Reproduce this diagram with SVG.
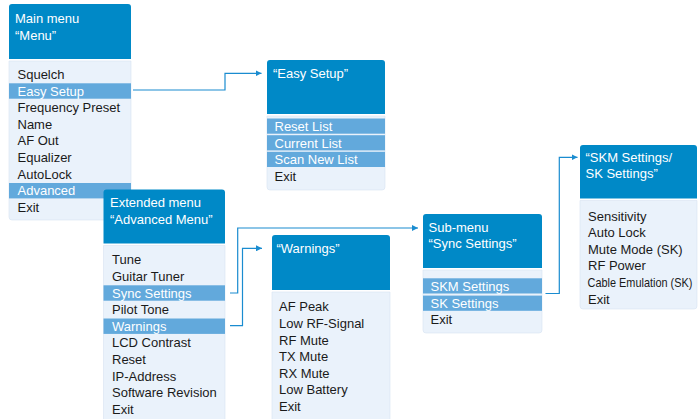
<svg xmlns="http://www.w3.org/2000/svg" width="699" height="419" viewBox="0 0 699 419">
<defs>
<style>
.hd{fill:#0089c7}
.bd{fill:#eaf2fb;stroke:#d6e3f1;stroke-width:0.6}
.hl{fill:#62a9dc}
text{font-family:"Liberation Sans",Arial,sans-serif;font-size:13px}
.ht{fill:#ffffff}
.it{fill:#1a1a1a}
.iw{fill:#ffffff}
.cn{fill:none;stroke:#1a8cd0;stroke-width:1.2}
</style>
<marker id="ah" markerUnits="userSpaceOnUse" markerWidth="7" markerHeight="6" refX="6" refY="3" orient="auto">
<path d="M0,0 L6,3 L0,6 Z" fill="#1a8cd0"/>
</marker>
</defs>
<rect width="699" height="419" fill="#ffffff"/>

<g id="main-menu">
<path class="hd" d="M9,59 V7 Q9,4 12,4 H128 Q131,4 131,7 V59 Z"/>
<path class="bd" d="M9,61 H131 V217 Q131,220 128,220 H12 Q9,220 9,217 Z"/>
<rect class="hl" x="9" y="83.3" width="122" height="15.4"/>
<rect class="hl" x="9" y="183" width="122" height="15.4"/>
<text class="ht" x="15" y="22.6">Main menu</text>
<text class="ht" x="15" y="39.6">“Menu”</text>
<text class="it" x="17.5" y="79">Squelch</text>
<text class="iw" x="17.5" y="95.6">Easy Setup</text>
<text class="it" x="17.5" y="112.2">Frequency Preset</text>
<text class="it" x="17.5" y="128.8">Name</text>
<text class="it" x="17.5" y="145.4">AF Out</text>
<text class="it" x="17.5" y="162">Equalizer</text>
<text class="it" x="17.5" y="178.6">AutoLock</text>
<text class="iw" x="17.5" y="195.2">Advanced</text>
<text class="it" x="17.5" y="211.8">Exit</text>
</g>

<g id="easy-setup">
<path class="hd" d="M267,114 V63 Q267,60 270,60 H382 Q385,60 385,63 V114 Z"/>
<path class="bd" d="M267,116 H385 V187 Q385,190 382,190 H270 Q267,190 267,187 Z"/>
<rect class="hl" x="267" y="118.5" width="118" height="15.2"/>
<rect class="hl" x="267" y="135.2" width="118" height="15.2"/>
<rect class="hl" x="267" y="151.8" width="118" height="15.2"/>
<text class="ht" x="273" y="78">“Easy Setup”</text>
<text class="iw" x="274.5" y="130.8">Reset List</text>
<text class="iw" x="274.5" y="147.5">Current List</text>
<text class="iw" x="274.5" y="164.1">Scan New List</text>
<text class="it" x="274.5" y="180.6">Exit</text>
</g>

<g id="extended-menu">
<path class="hd" d="M103.5,243.5 V192.5 Q103.5,189.5 106.5,189.5 H222 Q225,189.5 225,192.5 V243.5 Z"/>
<path class="bd" d="M103.5,245.5 H225 V422 H103.5 Z"/>
<rect class="hl" x="103.5" y="285.3" width="121.5" height="15.4"/>
<rect class="hl" x="103.5" y="318.5" width="121.5" height="15.4"/>
<text class="ht" x="110" y="207.3">Extended menu</text>
<text class="ht" x="110" y="223.8">“Advanced Menu”</text>
<text class="it" x="112" y="264.4">Tune</text>
<text class="it" x="112" y="281">Guitar Tuner</text>
<text class="iw" x="112" y="297.6">Sync Settings</text>
<text class="it" x="112" y="314.2">Pilot Tone</text>
<text class="iw" x="112" y="330.8">Warnings</text>
<text class="it" x="112" y="347.4">LCD Contrast</text>
<text class="it" x="112" y="364">Reset</text>
<text class="it" x="112" y="380.6">IP-Address</text>
<text class="it" x="112" y="397.2">Software Revision</text>
<text class="it" x="112" y="413.8">Exit</text>
</g>

<g id="warnings">
<path class="hd" d="M272,290 V238 Q272,235 275,235 H387 Q390,235 390,238 V290 Z"/>
<path class="bd" d="M272,292 H390 V422 H272 Z"/>
<text class="ht" x="276.5" y="253">“Warnings”</text>
<text class="it" x="279" y="311.3">AF Peak</text>
<text class="it" x="279" y="327.9">Low RF-Signal</text>
<text class="it" x="279" y="344.5">RF Mute</text>
<text class="it" x="279" y="361.1">TX Mute</text>
<text class="it" x="279" y="377.7">RX Mute</text>
<text class="it" x="279" y="394.3">Low Battery</text>
<text class="it" x="279" y="410.9">Exit</text>
</g>

<g id="sync-settings">
<path class="hd" d="M423,268 V217 Q423,214 426,214 H539 Q542,214 542,217 V268 Z"/>
<path class="bd" d="M423,270 H542 V330 Q542,333 539,333 H426 Q423,333 423,330 Z"/>
<rect class="hl" x="423" y="278.3" width="119" height="15.2"/>
<rect class="hl" x="423" y="295.6" width="119" height="15.2"/>
<text class="ht" x="428.5" y="232.3">Sub-menu</text>
<text class="ht" x="428.5" y="248">“Sync Settings”</text>
<text class="iw" x="430.5" y="290.6">SKM Settings</text>
<text class="iw" x="430.5" y="307.6">SK Settings</text>
<text class="it" x="430.5" y="323.8">Exit</text>
</g>

<g id="skm-sk-settings">
<path class="hd" d="M580,198.5 V148 Q580,145 583,145 H694 Q697,145 697,148 V198.5 Z"/>
<path class="bd" d="M580,200.5 H697 V306 Q697,309 694,309 H583 Q580,309 580,306 Z"/>
<text class="ht" x="585.5" y="162">“SKM Settings/</text>
<text class="ht" x="585.5" y="178">SK Settings”</text>
<text class="it" x="588" y="220.6">Sensitivity</text>
<text class="it" x="588" y="237.2">Auto Lock</text>
<text class="it" x="588" y="253.8">Mute Mode (SK)</text>
<text class="it" x="588" y="270.4">RF Power</text>
<text class="it" x="0" y="0" transform="translate(587.5,287) scale(0.84,1)">Cable Emulation (SK)</text>
<text class="it" x="588" y="303.6">Exit</text>
</g>

<g id="connectors">
<polyline class="cn" points="133,90 225,90 225,73.3 261.5,73.3" marker-end="url(#ah)"/>
<polyline class="cn" points="230,293 237.7,293 237.7,228 418,228" marker-end="url(#ah)"/>
<polyline class="cn" points="230,325.7 242.5,325.7 242.5,248.3 262,248.3" marker-end="url(#ah)"/>
<polyline class="cn" points="545.5,293.5 559.3,293.5 559.3,157.3 577.5,157.3" marker-end="url(#ah)"/>
</g>
</svg>
